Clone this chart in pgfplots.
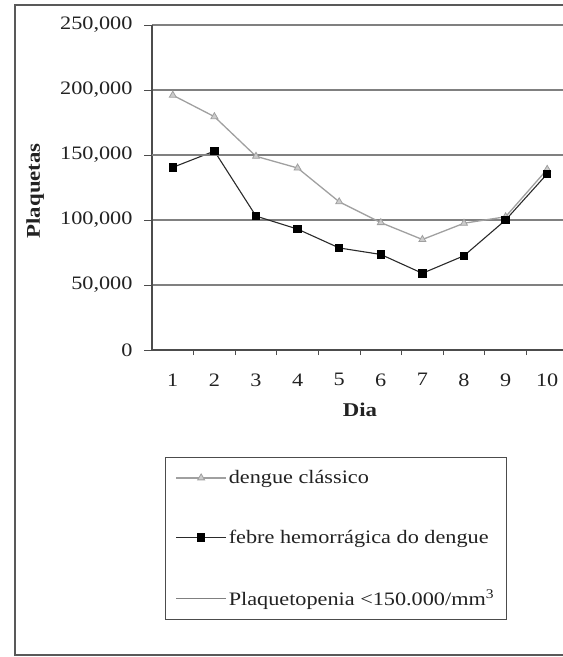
\documentclass[border=0pt]{standalone}
\usepackage{fontspec}
\setmainfont{Liberation Serif}[FakeStretch=1.17]
\usepackage{pgfplots}
\pgfplotsset{compat=1.18}

\definecolor{gridc}{HTML}{808080}
\definecolor{grayser}{HTML}{A0A0A0}
\definecolor{blackser}{HTML}{2A2A2A}
\definecolor{txt}{HTML}{222222}

\begin{document}
\begin{tikzpicture}
\useasboundingbox (0,0) rectangle (563pt,657pt);
\clip (0,0) rectangle (563pt,657pt);
% outer frame
\draw[gray!70!black, line width=1.3pt] (15pt,2pt) rectangle (620pt,652pt);

\begin{axis}[
    scale only axis,
    at={(152pt,307pt)}, anchor=south west,
    width=416pt, height=325pt,
    xmin=0.5, xmax=10.5,
    ymin=0, ymax=250000,
    axis x line*=bottom, axis y line*=left,
    axis line style={gray!60!black, line width=1.2pt},
    xtick={1,...,10},
    major x tick style={draw=none},
    minor xtick={1.5,2.5,...,9.5},
    minor tick length=5pt,
    minor x tick style={gray!60!black, line width=1pt},
    ytick={0,50000,...,250000},
    major tick length=8pt,
    tick align=outside,
    ytick style={gray!60!black, line width=1pt},
    scaled y ticks=false,
    /pgf/number format/.cd, fixed, 1000 sep={,}, assume math mode=true,
    /pgfplots/.cd,
    ymajorgrids=true,
    grid style={gridc, line width=1.5pt},
    ticklabel style={font=\fontsize{19}{22}\selectfont, text=txt},
    yticklabel style={xshift=-8pt},
    xticklabel style={yshift=-12pt},
    xlabel={\textbf{Dia}}, ylabel={\textbf{Plaquetas}},
    every axis x label/.style={at={(axis description cs:0.5,-0.185)}, anchor=center, font=\fontsize{19.5}{22}\selectfont, text=txt},
    every axis y label/.style={at={(axis description cs:-0.281,0.49)}, anchor=center, rotate=90, font=\fontsize{19.5}{22}\selectfont, text=txt},
    legend image code/.code={
        \draw[mark repeat=2, mark phase=2, #1] plot coordinates {(0pt,0pt) (25pt,0pt) (50pt,0pt)};
    },
    legend cell align=left,
    legend style={
        at={(axis description cs:0.031,-0.329)}, anchor=north west,
        draw=gray!60!black, line width=1.2pt,
        font=\fontsize{19}{22}\selectfont, text=txt,
        row sep=41pt, inner xsep=10pt, inner ysep=11pt,
    },
]
\addplot[grayser, line width=1.3pt, mark=triangle*, mark size=4pt,
    mark options={fill=gray!40, draw=grayser, line width=0.8pt}]
coordinates {
(1,196000)(2,179500)(3,149000)(4,140000)(5,114000)
(6,98000)(7,85000)(8,97500)(9,102500)(10,139000)
};
\addplot[blackser, line width=1.1pt, mark=square*, mark size=3.7pt,
    mark options={fill=black, draw=black}]
coordinates {
(1,140500)(2,153000)(3,103000)(4,93000)(5,78500)
(6,73500)(7,59000)(8,72500)(9,100000)(10,135500)
};
\addplot[gridc, line width=1.2pt] coordinates {(0.5,150000)(10.5,150000)};
\legend{dengue clássico, febre hemorrágica do dengue, Plaquetopenia <150.000/mm\textsuperscript{3}}
\end{axis}
\end{tikzpicture}
\end{document}
